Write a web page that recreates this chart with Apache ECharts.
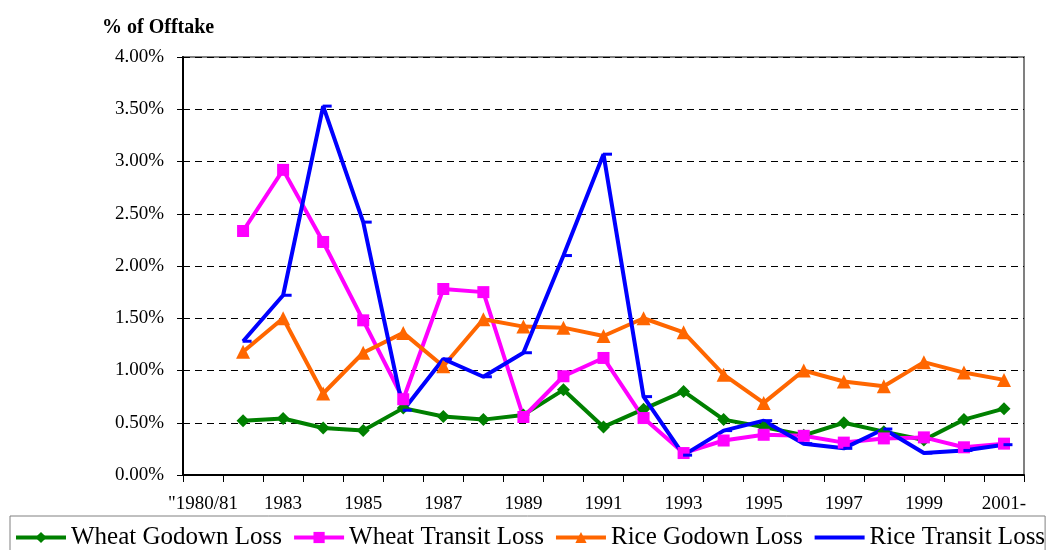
<!DOCTYPE html>
<html>
<head>
<meta charset="utf-8">
<script src="https://cdn.jsdelivr.net/npm/echarts@6/dist/echarts.min.js"></script>
<style>
  html, body { margin: 0; padding: 0; background: #fff; }
  #chart { width: 1048px; height: 550px; }
</style>
</head>
<body>
<div id="chart"></div>
<script>
// categories: first slot has no data, odd years are unlabelled
const years = ['"1980/81', '1982', '1983', '1984', '1985', '1986', '1987', '1988', '1989', '1990',
  '1991', '1992', '1993', '1994', '1995', '1996', '1997', '1998', '1999', '2000', '2001-']

// values in % of offtake
const wheatGodown = [null, 0.52, 0.54, 0.45, 0.425, 0.64, 0.56, 0.53, 0.575, 0.815,
  0.46, 0.63, 0.80, 0.53, 0.46, 0.38, 0.50, 0.415, 0.335, 0.53, 0.635]
const wheatTransit = [null, 2.335, 2.92, 2.23, 1.48, 0.725, 1.78, 1.75, 0.555, 0.945,
  1.12, 0.545, 0.21, 0.33, 0.385, 0.375, 0.31, 0.35, 0.36, 0.265, 0.30]
const riceGodown = [null, 1.18, 1.50, 0.78, 1.17, 1.36, 1.04, 1.49, 1.42, 1.41,
  1.33, 1.50, 1.365, 0.96, 0.69, 1.00, 0.895, 0.85, 1.08, 0.98, 0.91]
const riceTransit = [null, 1.28, 1.72, 3.53, 2.42, 0.62, 1.11, 0.94, 1.17, 2.10,
  3.07, 0.75, 0.19, 0.425, 0.52, 0.30, 0.255, 0.44, 0.21, 0.235, 0.29]

const font = '"Liberation Serif", "Times New Roman", serif'

const chart = echarts.init(document.getElementById('chart'))

const mkSeries = (name, data, color, symbol, size, extra) => Object.assign({
  name,
  type: 'line',
  data,
  color,
  symbol,
  symbolSize: size,
  showAllSymbol: true,
  connectNulls: false,
  lineStyle: { width: 4, color },
  itemStyle: { color },
  animation: false
}, extra || {})

chart.setOption({
  backgroundColor: '#fff',
  title: {
    text: '% of Offtake',
    left: 97,
    top: 13,
    textStyle: { fontFamily: font, fontWeight: 'bold', fontSize: 20, color: '#000' }
  },
  grid: {
    left: 183,
    right: 24,
    top: 57,
    height: 418,
    show: true,
    borderColor: '#808080',
    borderWidth: 2,
    backgroundColor: '#fff'
  },
  legend: {
    left: 10,
    top: 516,
    width: 1080,
    padding: [9, 0, 14, 4],
    itemWidth: 50,
    itemHeight: 14,
    itemGap: 10,
    borderColor: '#808080',
    borderWidth: 1,
    lineStyle: { width: 4 },
    textStyle: { fontFamily: font, fontSize: 25, color: '#000' },
    data: [
      'Wheat Godown Loss',
      'Wheat Transit Loss',
      'Rice Godown Loss',
      { name: 'Rice Transit Loss', itemStyle: { opacity: 0 } }
    ]
  },
  xAxis: {
    type: 'category',
    data: years,
    boundaryGap: true,
    axisLine: { lineStyle: { color: '#000', width: 2 } },
    axisTick: { show: true, interval: 0, length: 7, lineStyle: { color: '#000' } },
    axisLabel: {
      interval: 1,
      margin: 20,
      fontFamily: font,
      fontSize: 19,
      color: '#000'
    },
    splitLine: { show: false }
  },
  yAxis: {
    type: 'value',
    min: 0,
    max: 4,
    interval: 0.5,
    axisLine: { show: true, lineStyle: { color: '#000', width: 2 } },
    axisTick: { show: true, length: 6, lineStyle: { color: '#000' } },
    axisLabel: {
      margin: 19,
      fontFamily: font,
      fontSize: 19,
      color: '#000',
      formatter: v => v.toFixed(2) + '%'
    },
    splitLine: { show: true, lineStyle: { color: '#000', type: [7, 5], width: 1 } }
  },
  series: [
    mkSeries('Wheat Godown Loss', wheatGodown, '#008000', 'diamond', 13),
    mkSeries('Wheat Transit Loss', wheatTransit, '#ff00ff', 'rect', 12),
    mkSeries('Rice Godown Loss', riceGodown, '#ff6600', 'triangle', 14),
    mkSeries('Rice Transit Loss', riceTransit, '#0000ff', 'rect', [9, 3], { symbolOffset: [4, 0] })
  ]
})
</script>
</body>
</html>
